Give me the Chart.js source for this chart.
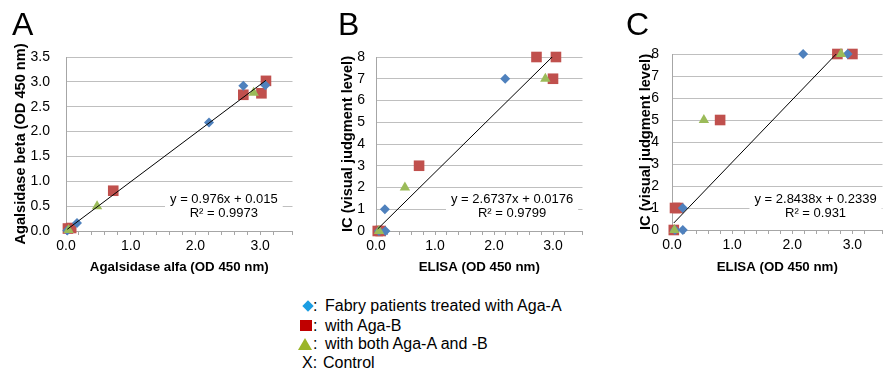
<!DOCTYPE html>
<html>
<head>
<meta charset="utf-8">
<script src="https://cdn.jsdelivr.net/npm/chart.js@4.4.0/dist/chart.umd.min.js"></script>
<style>
html,body{margin:0;padding:0;background:#fff;}
body{width:885px;height:373px;overflow:hidden;position:relative;font-family:"Liberation Sans",Arial,sans-serif;color:#000;}
canvas{position:absolute;top:0;}
.letter{position:absolute;top:8px;font-size:32px;line-height:1;}
.leg{position:absolute;font-size:16px;line-height:1;white-space:pre;}
.sym{position:absolute;}
</style>
</head>
<body>
<canvas id="chartA" width="300" height="290" style="left:0"></canvas>
<canvas id="chartB" width="300" height="290" style="left:290px"></canvas>
<canvas id="chartC" width="300" height="290" style="left:590px"></canvas>
<div class="letter" style="left:12px">A</div>
<div class="letter" style="left:338px">B</div>
<div class="letter" style="left:626px">C</div>

<div class="sym" style="left:303.5px;top:301.5px;width:8px;height:8px;background:#1b9de2;transform:rotate(45deg)"></div>
<div class="leg" style="left:313px;top:298px">:</div>
<div class="leg" style="left:325px;top:298px">Fabry patients treated with Aga-A</div>
<div class="sym" style="left:300px;top:320px;width:12px;height:11px;background:#c00000"></div>
<div class="leg" style="left:313px;top:318px">:</div>
<div class="leg" style="left:325px;top:318px">with Aga-B</div>
<div class="sym" style="left:298px;top:338px;width:0;height:0;border-left:7.5px solid transparent;border-right:7.5px solid transparent;border-bottom:12px solid #9bb528"></div>
<div class="leg" style="left:313px;top:336px">:</div>
<div class="leg" style="left:325px;top:336px">with both Aga-A and -B</div>
<div class="leg" style="left:302px;top:355px">X:</div>
<div class="leg" style="left:323px;top:355px">Control</div>

<script>
// panel A: Agalsidase alfa (x) vs beta (y)
const aAgaA = [[0.02,0.01],[0.17,0.16],[2.21,2.18],[2.74,2.92],[3.08,2.93]];
const aAgaB = [[0.03,0.05],[0.08,0.06],[0.73,0.81],[2.74,2.74],[3.02,2.77],[3.09,3.02]];
const aBoth = [[0.04,0.02],[0.48,0.50],[2.90,2.78]];
const aFit = {slope:0.976, icpt:0.015, from:0.02, to:3.09, r2:'0.9973'};

// panel B: ELISA vs IC (visual judgment level)
const bAgaA = [[0.05,0],[0.15,1],[0.16,0],[2.19,7]];
const bAgaB = [[0.03,0],[0.08,0],[0.73,3],[2.72,8],[3.05,8],[3.00,7]];
const bBoth = [[0.05,0],[0.49,2],[2.87,7]];
const bFit = {slope:2.6737, icpt:0.0176, from:0.03, to:3.05, r2:'0.9799'};

// panel C
const cAgaA = [[0.05,0],[0.18,1],[0.18,0],[2.18,8],[2.92,8]];
const cAgaB = [[0.03,0],[0.05,1],[0.10,1],[0.80,5],[2.75,8],[3.00,8]];
const cBoth = [[0.04,0],[0.53,5],[2.81,8]];
const cFit = {slope:2.8438, icpt:0.2339, from:0.03, to:3.00, r2:'0.931'};

const BLUE='#4f81bd', RED='#c0504d', GREEN='#9bbb59';
const GRID='#bfbfbf', AXIS='#a6a6a6';
const FONT='"Liberation Sans", Arial, sans-serif';
Chart.defaults.font.family = FONT;
Chart.defaults.color = '#000';

function pts(arr){ return arr.map(p=>({x:p[0], y:p[1]})); }
function fitLine(f){ return [f.from, f.to].map(x=>({x:x, y:f.slope*x+f.icpt})); }
function eqText(f){ return 'y = '+f.slope+'x + '+f.icpt; }

const eqBox = {
  id:'eqBox',
  beforeDatasetsDraw(chart, args, o){
    const {ctx, chartArea:a} = chart;
    ctx.save();
    ctx.font = '13px '+FONT;
    const cx = a.left + o.fx*(a.right-a.left);
    const y1 = a.bottom - o.dy;
    const w = Math.max(...o.lines.map(t=>ctx.measureText(t).width));
    ctx.fillStyle = '#fff';
    ctx.fillRect(cx-w/2-5, y1-14, w+10, 33);
    ctx.fillStyle = '#000'; ctx.textAlign = 'center'; ctx.textBaseline = 'alphabetic';
    o.lines.forEach((t,i)=>ctx.fillText(t, cx, y1+i*14));
    ctx.restore();
  }
};

function panel(id, p){
  new Chart(document.getElementById(id), {
    type:'scatter',
    data:{datasets:[
      {data:fitLine(p.fit), showLine:true, borderColor:'#000', borderWidth:1, pointRadius:0, order:0, clip:0},
      {data:pts(p.both), pointStyle:'triangle', pointRadius:6, backgroundColor:GREEN, pointBorderWidth:0, order:1, clip:false},
      {data:pts(p.agaA), pointStyle:'rectRot', pointRadius:5, backgroundColor:BLUE, pointBorderWidth:0, order:2, clip:false},
      {data:pts(p.agaB), pointStyle:'rect', pointRadius:7.5, backgroundColor:RED, pointBorderWidth:0, order:3, clip:false}
    ]},
    options:{
      responsive:false, animation:false, devicePixelRatio:1,
      layout:{padding:{left:0, right:p.padR, top:p.top, bottom:0}},
      plugins:{legend:{display:false}, tooltip:{enabled:false},
        eqBox:{fx:p.fx, dy:p.dy, lines:[eqText(p.fit), 'R\u00b2 = '+p.fit.r2]}},
      scales:{
        x:{type:'linear', min:0, max:3.5,
          afterFit(s){ s.height = 290 - p.bottom; },
          border:{display:true, color:AXIS},
          grid:{drawOnChartArea:false, drawTicks:true, tickLength:4, color:AXIS},
          ticks:{stepSize:0.2, autoSkip:false, maxRotation:0, padding:3, font:{size:14},
            callback:v=>Math.abs(v-Math.round(v))<1e-6 ? v.toFixed(1) : ''},
          title:{display:true, text:p.xTitle, font:{size:13.3, weight:'bold'}, padding:{top:0, bottom:15}}
        },
        y:{type:'linear', min:0, max:p.yMax,
          afterFit(s){ s.width = p.yW; },
          border:{display:true, color:AXIS},
          grid:{color:GRID, drawTicks:false},
          ticks:{stepSize:p.yStep, padding:p.tickPad, font:{size:14},
            callback:v=>p.yStep<1 ? v.toFixed(1) : String(v)},
          title:{display:true, text:p.yTitle, font:{size:14.6, weight:'bold'}, padding:{top:p.titlePad, bottom:0}}
        }
      }
    },
    plugins:[eqBox]
  });
}

panel('chartA', {agaA:aAgaA, agaB:aAgaB, both:aBoth, fit:aFit, yMax:3.5, yStep:0.5,
  xTitle:'Agalsidase alfa (OD 450 nm)', yTitle:'Agalsidase beta (OD 450 nm)',
  yW:66, padR:3, top:57, bottom:231, tickPad:16, titlePad:12, fx:0.697, dy:28});
panel('chartB', {agaA:bAgaA, agaB:bAgaB, both:bBoth, fit:bFit, yMax:8, yStep:1,
  xTitle:'ELISA (OD 450 nm)', yTitle:'IC (visual judgment level)',
  yW:86, padR:0, top:57, bottom:231, tickPad:11, titlePad:49, fx:0.659, dy:28});
panel('chartC', {agaA:cAgaA, agaB:cAgaB, both:cBoth, fit:cFit, yMax:8, yStep:1,
  xTitle:'ELISA (OD 450 nm)', yTitle:'IC (visual judgment level)',
  yW:82, padR:1, top:54, bottom:230, tickPad:13, titlePad:47, fx:0.682, dy:27});
</script>
</body>
</html>
